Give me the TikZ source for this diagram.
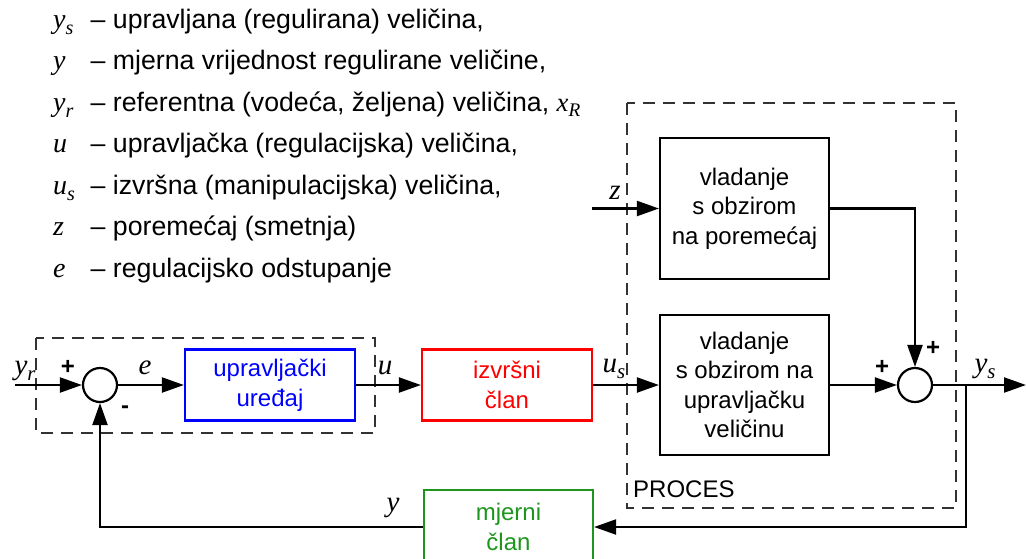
\documentclass[tikz,border=0pt]{standalone}
\usepackage{fontspec}
\setmainfont{Liberation Sans}
\newfontfamily\tms{Liberation Serif}
\usetikzlibrary{arrows.meta}
\definecolor{mgreen}{RGB}{30,150,30}
\definecolor{dgray}{RGB}{50,50,50}
\newcommand{\sv}[2]{{\tms\itshape #1\raisebox{-0.22em}{\scalebox{0.72}{#2}}}}
\begin{document}
\begin{tikzpicture}[x=1pt,y=-1pt,
  font=\fontsize{24}{29.5}\selectfont,
  sig/.style={line width=2.2pt,-{Triangle[length=22pt,width=15pt]}},
  blk/.style={draw,line width=2.2pt,minimum width=170pt,minimum height=71pt,align=center,inner sep=0pt},
  sumc/.style={circle,draw,line width=2.2pt,minimum size=34pt,inner sep=0pt},
  dsh/.style={draw=dgray,line width=2.2pt,dash pattern=on 12pt off 8pt},
  lbl/.style={font=\tms\itshape\fontsize{29}{30}\selectfont},
  sgn/.style={font=\bfseries\fontsize{24}{24}\selectfont},
  legs/.style={anchor=base west,inner sep=0pt,font=\fontsize{28}{30}\selectfont},
  legt/.style={anchor=base west,inner sep=0pt,font=\fontsize{26.7}{30}\selectfont}]
\clip (0,0) rectangle (1026,558);
% legend
\node[legs] (s1l) at (53,28) {\sv{y}{s}};
\node[legt] (t1l) at (90.5,28) {– upravljana (regulirana) veličina,};
\node[legs] (s2l) at (53,69.5) {\sv{y}{}};
\node[legt] (t2l) at (90.5,69.5) {– mjerna vrijednost regulirane veličine,};
\node[legs] (s3l) at (53,111) {\sv{y}{r}};
\node[legt] (t3l) at (90.5,111) {– referentna (vodeća, željena) veličina, \sv{x}{R}};
\node[legs] (s4l) at (53,152.5) {\sv{u}{}};
\node[legt] (t4l) at (90.5,152.5) {– upravljačka (regulacijska) veličina,};
\node[legs] (s5l) at (53,194) {\sv{u}{s}};
\node[legt] (t5l) at (90.5,194) {– izvršna (manipulacijska) veličina,};
\node[legs] (s6l) at (53,235.5) {\sv{z}{}};
\node[legt] (t6l) at (90.5,235.5) {– poremećaj (smetnja)};
\node[legs] (s7l) at (53,277) {\sv{e}{}};
\node[legt] (t7l) at (90.5,277) {– regulacijsko odstupanje};
% dashed frames
\draw[dsh] (36,338) rectangle (375,433);
\draw[dsh] (627,103) rectangle (956,508);
\node[anchor=base west,inner sep=0pt] (proc) at (633,497) {PROCES};
% blocks
\node[sumc] (s1) at (100,385) {};
\node[blk,draw=blue,text=blue] (c) at (270,385) {upravljački\\uređaj};
\node[blk,draw=red,text=red] (a) at (507,385) {izvršni\\član};
\node[blk,minimum width=169pt,minimum height=141pt] (pz) at (744.5,208.5) {vladanje\\s obzirom\\na poremećaj};
\node[blk,minimum width=169pt,minimum height=140pt] (pu) at (744.5,385) {vladanje\\s obzirom na\\upravljačku\\veličinu};
\node[sumc] (s2) at (915,385) {};
\node[blk,draw=mgreen,text=mgreen,minimum width=169pt,minimum height=74pt] (m) at (508.5,527) {mjerni\\član};
% coordinates
\coordinate (in) at (15,385);
\coordinate (zin) at (592,208.5);
\coordinate (out) at (1026,385);
\coordinate (br) at (966,385);
% connectors
\draw[sig] (in) -- (s1.west);
\draw[sig] (s1.east) -- (c.west);
\draw[sig] (c.east) -- (a.west);
\draw[sig] (a.east) -- (pu.west);
\draw[sig] (zin) -- (pz.west);
\draw[sig] (pz.east) -| (s2.north);
\draw[sig] (pu.east) -- (s2.west);
\draw[sig] (s2.east) -- (out);
\draw[sig] (br) |- (m.east);
\draw[sig] (m.west) -| (s1.south);
% labels
\node[lbl] (lyr) at (25,371) {\sv{y}{r}};
\node[sgn] (p1) at (68,367) {+};
\node[sgn] (m1) at (125,410) {-};
\node[lbl] (le) at (145,368) {e};
\node[lbl] (lu) at (385,368) {u};
\node[lbl] (lus) at (614,369) {\sv{u}{s}};
\node[lbl] (lz) at (615,193) {z};
\node[lbl] (ly) at (393,508) {y};
\node[lbl] (lys) at (985,369) {\sv{y}{s}};
\node[sgn] (p2) at (882,367) {+};
\node[sgn] (p3) at (933,348) {+};
\end{tikzpicture}
\end{document}
